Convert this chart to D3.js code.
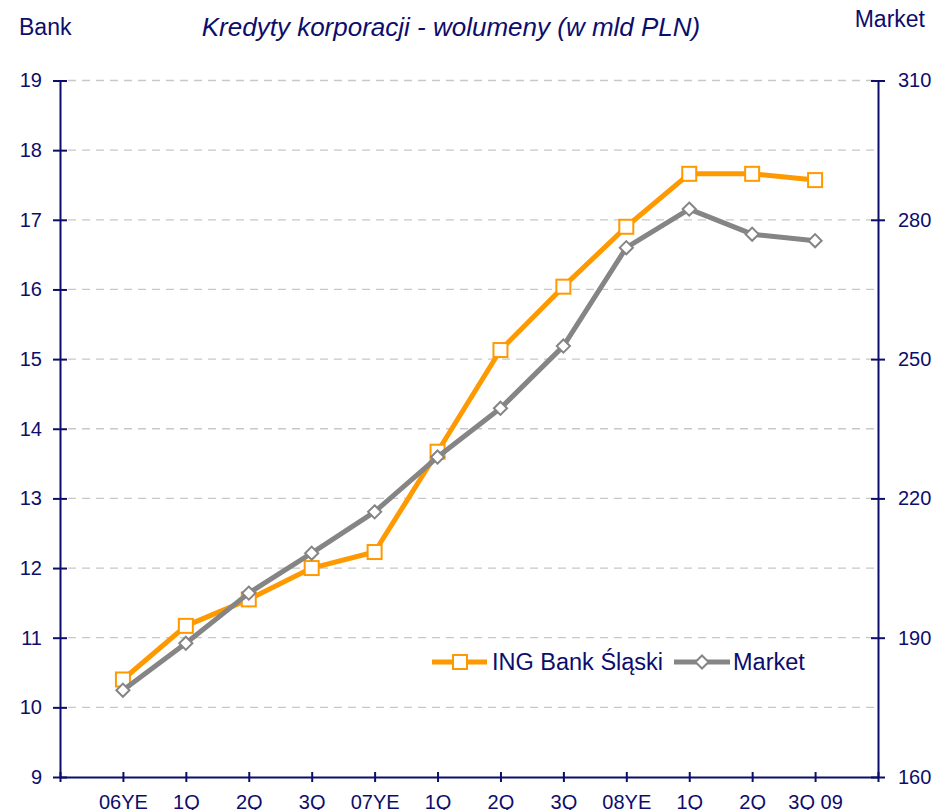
<!DOCTYPE html>
<html>
<head>
<meta charset="utf-8">
<script src="https://cdn.jsdelivr.net/npm/d3@7"></script>
<style>
  body { margin: 0; background: #fff; }
  text { font-family: "Liberation Sans", Arial, sans-serif; fill: #0d0d6b; }
</style>
</head>
<body>
<div id="chart"></div>
<script>
var w = 939;
var h = 810;

// quarters, blank slots at both ends so points sit between the axes
var categories = ["", "06YE", "1Q", "2Q", "3Q", "07YE", "1Q", "2Q", "3Q", "08YE", "1Q", "2Q", "3Q 09", ""];
var bankValues = [10.4, 11.17, 11.55, 12.0, 12.23, 13.67, 15.13, 16.04, 16.9, 17.66, 17.66, 17.57];
var marketValues = [178.7, 188.8, 199.6, 208.2, 217.1, 228.9, 239.4, 252.8, 274.0, 282.3, 276.9, 275.5];
var leftTicks = [9, 10, 11, 12, 13, 14, 15, 16, 17, 18, 19];
var rightTicks = [160, 190, 220, 250, 280, 310];

var navy = "#0d0d6b";
var orange = "#ff9900";
var grey = "#858585";

var svg = d3.select("#chart").append("svg")
  .attr("width", w)
  .attr("height", h);

var plotLeft = 60, plotRight = 878, plotTop = 80.5, plotBottom = 777;

var x = d3.scalePoint()
  .domain(d3.range(categories.length))
  .range([plotLeft, plotRight]);

var yBank = d3.scaleLinear().domain([9, 19]).range([plotBottom, plotTop]);
var yMarket = d3.scaleLinear().domain([160, 310]).range([plotBottom, plotTop]);

// dashed grid
svg.append("g")
  .selectAll("line")
  .data(leftTicks.slice(1))
  .enter()
  .append("line")
  .attr("x1", plotLeft + 8)
  .attr("x2", plotRight - 4)
  .attr("y1", function(d) { return yBank(d); })
  .attr("y2", function(d) { return yBank(d); })
  .attr("stroke", "#c8c8c8")
  .attr("stroke-width", 1.3)
  .attr("stroke-dasharray", "8,6");

function styleAxis(g) {
  g.select(".domain").attr("stroke", navy).attr("stroke-width", 2);
  g.selectAll(".tick line").attr("stroke", navy).attr("stroke-width", 2);
  g.selectAll(".tick text").style("font-size", "20px").attr("fill", navy);
}

// left axis, ticks cross the line
var gl = svg.append("g").attr("transform", "translate(" + plotLeft + ",0)")
  .call(d3.axisLeft(yBank).tickValues(leftTicks).tickSize(7).tickPadding(11).tickSizeOuter(0));
styleAxis(gl);
gl.selectAll(".tick line").attr("x2", 7).attr("x1", -7);

var gr = svg.append("g").attr("transform", "translate(" + plotRight + ",0)")
  .call(d3.axisRight(yMarket).tickValues(rightTicks).tickSize(7).tickPadding(13).tickSizeOuter(0));
styleAxis(gr);
gr.selectAll(".tick line").attr("x1", -7).attr("x2", 7);

var gb = svg.append("g").attr("transform", "translate(0," + plotBottom + ")")
  .call(d3.axisBottom(x).tickSize(5).tickPadding(13).tickSizeOuter(0)
    .tickFormat(function(i) { return categories[i]; }));
styleAxis(gb);
gb.selectAll(".tick line").attr("y1", -5).attr("y2", 5);

// lines
var pts = d3.range(1, categories.length - 1);

var bankLine = d3.line()
  .x(function(d, i) { return x(pts[i]); })
  .y(function(d) { return yBank(d); });

var marketLine = d3.line()
  .x(function(d, i) { return x(pts[i]); })
  .y(function(d) { return yMarket(d); });

svg.append("path")
  .attr("d", bankLine(bankValues))
  .attr("fill", "none")
  .attr("stroke", orange)
  .attr("stroke-width", 5)
  .attr("stroke-linejoin", "round");

svg.selectAll("rect.bank")
  .data(bankValues)
  .enter()
  .append("rect")
  .attr("class", "bank")
  .attr("x", function(d, i) { return x(pts[i]) - 7; })
  .attr("y", function(d) { return yBank(d) - 7; })
  .attr("width", 14)
  .attr("height", 14)
  .attr("fill", "#fff")
  .attr("stroke", orange)
  .attr("stroke-width", 2);

svg.append("path")
  .attr("d", marketLine(marketValues))
  .attr("fill", "none")
  .attr("stroke", grey)
  .attr("stroke-width", 5)
  .attr("stroke-linejoin", "round");

var diamond = d3.symbol().type(d3.symbolDiamond2).size(110);

svg.selectAll("path.market")
  .data(marketValues)
  .enter()
  .append("path")
  .attr("class", "market")
  .attr("d", diamond)
  .attr("transform", function(d, i) { return "translate(" + x(pts[i]) + "," + yMarket(d) + ")"; })
  .attr("fill", "#fff")
  .attr("stroke", grey)
  .attr("stroke-width", 2);

// legend
var ly = 662;
svg.append("line").attr("x1", 432).attr("x2", 487).attr("y1", ly).attr("y2", ly)
  .attr("stroke", orange).attr("stroke-width", 5);
svg.append("rect").attr("x", 453).attr("y", ly - 7).attr("width", 14).attr("height", 14)
  .attr("fill", "#fff").attr("stroke", orange).attr("stroke-width", 2);
svg.append("text").attr("x", 492).attr("y", ly + 8).style("font-size", "23.5px").text("ING Bank Śląski");

svg.append("line").attr("x1", 674).attr("x2", 730).attr("y1", ly).attr("y2", ly)
  .attr("stroke", grey).attr("stroke-width", 5);
svg.append("path").attr("d", diamond).attr("transform", "translate(702," + ly + ")")
  .attr("fill", "#fff").attr("stroke", grey).attr("stroke-width", 2);
svg.append("text").attr("x", 733).attr("y", ly + 8).style("font-size", "23.5px").text("Market");

// titles
svg.append("text").attr("x", 19).attr("y", 35).style("font-size", "23px").text("Bank");
svg.append("text").attr("x", 925).attr("y", 27).attr("text-anchor", "end").style("font-size", "23px").text("Market");
svg.append("text").attr("x", 451).attr("y", 36).attr("text-anchor", "middle")
  .style("font-size", "26px").style("font-style", "italic")
  .text("Kredyty korporacji - wolumeny (w mld PLN)");
</script>
</body>
</html>
